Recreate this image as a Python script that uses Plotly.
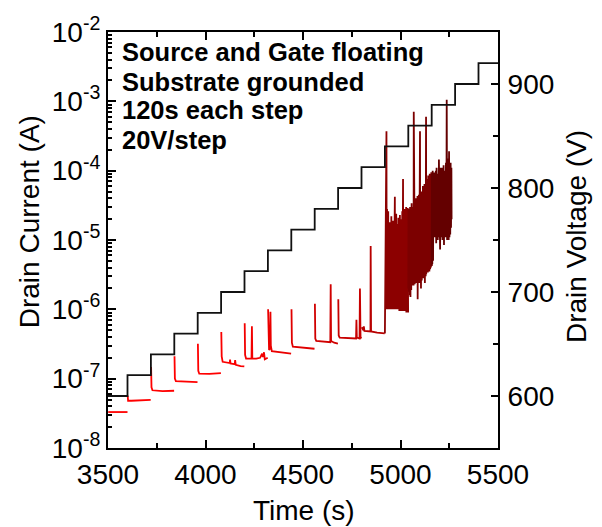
import plotly.graph_objects as go

# ---------------- data ----------------
# Drain voltage staircase (right axis)
step_t = [3500, 3600, 3720, 3840, 3960, 4080, 4200, 4320, 4440, 4560, 4680,
          4800, 4920, 5040, 5160, 5280, 5400, 5500]
step_v = [600, 620, 640, 660, 680, 700, 720, 740, 760, 780, 800,
          820, 840, 860, 880, 900, 920, 920]

# Drain current, one list pair per voltage step (left axis, log)
seg01_t = [3501, 3600]
seg01_i = [3.3e-8, 3.3e-8]
seg02_t = [3601, 3603, 3620, 3660, 3719]
seg02_i = [5.7e-8, 4.8e-8, 4.8e-8, 4.9e-8, 4.95e-8]
seg03_t = [3721, 3723, 3728, 3780, 3839]
seg03_i = [1.47e-7, 7.5e-8, 6.8e-8, 6.6e-8, 6.7e-8]
seg04_t = [3841, 3843, 3848, 3900, 3959]
seg04_i = [2.1e-7, 1.0e-7, 9.2e-8, 9.1e-8, 8.9e-8]
seg05_t = [3961, 3963, 3968, 4020, 4079]
seg05_i = [3.2e-7, 1.3e-7, 1.18e-7, 1.17e-7, 1.2e-7]
seg06_t = [4081, 4083, 4088, 4110, 4124, 4126, 4128, 4140, 4150, 4152, 4155, 4180, 4199]
seg06_i = [4.7e-7, 2.1e-7, 1.75e-7, 1.7e-7, 1.68e-7, 1.88e-7, 1.66e-7, 1.64e-7,
           1.62e-7, 1.85e-7, 1.58e-7, 1.52e-7, 1.5e-7]
seg07_t = [4201, 4203, 4208, 4236, 4238, 4240, 4260, 4280, 4290, 4294, 4300, 4304, 4319]
seg07_i = [6.3e-7, 2.2e-7, 1.95e-7, 1.95e-7, 5.7e-7, 1.95e-7, 1.95e-7, 2.0e-7,
           2.3e-7, 2.05e-7, 2.4e-7, 1.9e-7, 2.0e-7]
seg08_t = [4321, 4323, 4326, 4331, 4333, 4335, 4340, 4380, 4439]
seg08_i = [1.0e-6, 3.0e-7, 2.6e-7, 2.7e-7, 9.2e-7, 3.0e-7, 2.5e-7, 2.4e-7, 2.3e-7]
seg09_t = [4441, 4443, 4448, 4500, 4559]
seg09_i = [1.0e-6, 3.3e-7, 2.9e-7, 2.8e-7, 2.7e-7]
seg10_t = [4561, 4563, 4568, 4620, 4640, 4642, 4644, 4660, 4679]
seg10_i = [1.2e-6, 3.8e-7, 3.5e-7, 3.4e-7, 3.35e-7, 2.3e-6, 3.5e-7, 3.3e-7, 3.2e-7]
seg11_t = [4681, 4683, 4688, 4740, 4772, 4774, 4776, 4790, 4792, 4795, 4799]
seg11_i = [1.4e-6, 4.2e-7, 3.9e-7, 3.85e-7, 3.8e-7, 7.1e-7, 3.9e-7, 3.8e-7,
           2.0e-6, 4.0e-7, 3.8e-7]
seg12_t = [4801, 4805, 4810, 4812, 4815, 4846, 4847, 4849, 4880, 4919]
seg12_i = [5.5e-7, 5.2e-7, 5.0e-7, 5.7e-7, 4.9e-7, 4.8e-7, 8.2e-6, 4.8e-7, 4.6e-7, 4.5e-7]
seg13_t = [4920, 4921, 4923, 4924, 4928, 4929, 4931, 4932, 4934, 4935, 4937, 4938,
           4941, 4942, 4945, 4946, 4949, 4950, 4953, 4954, 4957, 4958, 4961, 4962,
           4965, 4966, 4971, 4972, 4974, 4975, 4978, 4979, 4981, 4982, 4985, 4986,
           4989, 4990, 4993, 4994, 4997, 4998, 5001, 5002, 5005, 5006, 5009, 5010,
           5013, 5014, 5017, 5018, 5021, 5022, 5025, 5026, 5029, 5030, 5033, 5034,
           5037, 5039]
seg13_i = [4.5e-7, 1.3e-6, 6e-6, 1.1e-6, 3.7e-4, 1.0e-6, 2.8e-5, 1.0e-6, 1.2e-5, 1.0e-6,
           2.6e-5, 1.0e-6, 5e-6, 1.0e-6, 1.8e-5, 1.0e-6, 4e-6, 1.0e-6, 2.2e-5, 1.0e-6,
           8e-6, 1.0e-6, 1.9e-5, 1.0e-6, 1.4e-5, 1.0e-6, 4.2e-5, 1.0e-6, 1.6e-5, 1.0e-6,
           2.4e-5, 1.0e-6, 9e-6, 1.0e-6, 1.7e-5, 1.0e-6, 2.1e-5, 1.0e-6, 1.3e-5, 9.5e-7,
           2.3e-5, 9.5e-7, 1.5e-5, 9.5e-7, 2.0e-5, 9.5e-7, 2.6e-5, 9.5e-7, 7.6e-5, 9.5e-7,
           2.4e-5, 9.5e-7, 2.8e-5, 9.5e-7, 2.2e-5, 9.5e-7, 3.0e-5, 9e-7, 2.6e-5, 9e-7,
           2.9e-5, 9e-7]
seg14_t = [5040, 5041, 5043, 5045, 5047, 5049, 5051, 5053, 5055, 5057, 5059, 5061,
           5063, 5065, 5067, 5068, 5069, 5071, 5073, 5075, 5077, 5079, 5081, 5083,
           5085, 5087, 5088, 5090, 5092, 5094, 5096, 5098, 5099, 5100, 5101, 5103,
           5105, 5107, 5109, 5111, 5113, 5115, 5117, 5119, 5121, 5123, 5125, 5127,
           5129, 5131, 5132, 5134, 5136, 5138, 5140, 5142, 5144, 5146, 5148, 5150,
           5152, 5154, 5156, 5158, 5160]
seg14_i = [2.0e-6, 2.8e-5, 1.8e-6, 2.6e-5, 1.6e-6, 3.0e-5, 1.5e-6, 2.4e-5, 1.9e-6,
           3.4e-5, 2.2e-6, 2.2e-5, 2.4e-6, 3.0e-5, 2.2e-6, 7.1e-4, 2.5e-6, 3.6e-5,
           2.3e-6, 2.8e-5, 2.6e-6, 4.0e-5, 2.4e-6, 3.2e-5, 2.5e-6, 4.3e-5, 1.4e-6,
           3.6e-5, 2.6e-6, 4.5e-5, 2.4e-6, 3.8e-5, 2.5e-6, 3.7e-4, 2.4e-6, 4.2e-5,
           2.0e-6, 5.0e-5, 2.6e-6, 4.6e-5, 3.0e-6, 6.0e-5, 2.8e-6, 5.2e-5, 3.2e-6,
           6.4e-5, 2.4e-6, 5.6e-5, 3.0e-6, 6.0e-4, 3.2e-6, 7.6e-5, 3.6e-6, 6.8e-5,
           3.4e-6, 8.5e-5, 3.8e-6, 7.6e-5, 3.5e-6, 9.0e-5, 3.8e-6, 8.0e-5, 4.0e-6,
           9.5e-5, 4.2e-6]
seg15_t = [5160, 5161, 5163, 5165, 5167, 5169, 5171, 5173, 5175, 5177, 5179, 5181,
           5183, 5185, 5187, 5189, 5191, 5193, 5195, 5197, 5199, 5201, 5203, 5205,
           5207, 5209, 5211, 5213, 5215, 5217, 5219, 5221, 5223, 5225, 5227, 5229,
           5231, 5233, 5235, 5237, 5239, 5241, 5243, 5245, 5247, 5249, 5251, 5253,
           5255, 5257, 5259, 5261, 5262]
seg15_i = [4.3e-6, 9.0e-5, 4.5e-6, 1.0e-4, 5.0e-6, 8.0e-5, 1.1e-5, 9.4e-5, 1.2e-5,
           8.5e-5, 1.1e-5, 1.0e-4, 9.0e-6, 1.1e-4, 1.2e-5, 8.0e-5, 1.0e-5, 9.0e-5,
           1.1e-5, 1.45e-4, 1.0e-5, 9.5e-5, 7.3e-6, 1.1e-4, 1.1e-5, 8.5e-5, 1.2e-5,
           1.1e-4, 1.0e-5, 9.0e-5, 1.1e-5, 1.2e-4, 8.5e-6, 1.0e-4, 1.1e-5, 9.0e-5,
           1.2e-5, 1.3e-4, 1.1e-5, 1.05e-3, 1.0e-5, 1.5e-4, 1.2e-5, 1.3e-4, 1.0e-5,
           1.9e-4, 1.1e-5, 1.2e-4, 1.2e-5, 1.3e-4, 1.5e-5, 1.1e-4, 2.0e-5]

segments = [
    (seg01_t, seg01_i, "#ff0000"), (seg02_t, seg02_i, "#ff0000"),
    (seg03_t, seg03_i, "#ff0000"), (seg04_t, seg04_i, "#ff0000"),
    (seg05_t, seg05_i, "#ff0000"), (seg06_t, seg06_i, "#fa0000"),
    (seg07_t, seg07_i, "#f20000"), (seg08_t, seg08_i, "#ea0000"),
    (seg09_t, seg09_i, "#e00000"), (seg10_t, seg10_i, "#d00000"),
    (seg11_t, seg11_i, "#c80000"), (seg12_t, seg12_i, "#b80000"),
    (seg13_t, seg13_i, "#8c0000"), (seg14_t, seg14_i, "#7c0000"),
    (seg15_t, seg15_i, "#640000"),
]

y_tickvals = [1e-8, 1e-7, 1e-6, 1e-5, 1e-4, 1e-3, 1e-2]
y_ticktext = ["10<sup>-8</sup>", "10<sup>-7</sup>", "10<sup>-6</sup>", "10<sup>-5</sup>",
              "10<sup>-4</sup>", "10<sup>-3</sup>", "10<sup>-2</sup>"]
y_minor = [m * d for d in [1e-8, 1e-7, 1e-6, 1e-5, 1e-4, 1e-3] for m in range(2, 10)]
v_tickvals = [600, 700, 800, 900]

notes = ["Source and Gate floating", "Substrate grounded", "120s each step", "20V/step"]

# ---------------- figure ----------------
FONT = "Liberation Sans, Arial, sans-serif"
fig = go.Figure()
for t, i, c in segments:
    fig.add_trace(go.Scatter(x=t, y=i, mode="lines", line=dict(color=c, width=1.8),
                             yaxis="y", hoverinfo="skip"))
fig.add_trace(go.Scatter(x=step_t, y=step_v, mode="lines", line_shape="hv",
                         line=dict(color="#111111", width=1.8), yaxis="y2"))

W, H = 602, 527
L, R, T, B = 108, 104, 26, 79
pw, ph = W - L - R, H - T - B

def px(xp):
    return (xp - L) / pw

def py(yp):
    return 1 - (yp - T) / ph

axis_common = dict(showline=True, linecolor="black", linewidth=2, showgrid=False,
                   zeroline=False, ticks="inside", tickcolor="black", tickwidth=2,
                   tickfont=dict(family=FONT, size=28, color="black"))

fig.update_layout(
    width=W, height=H, margin=dict(l=L, r=R, t=T, b=B),
    plot_bgcolor="white", paper_bgcolor="white", showlegend=False,
    xaxis=dict(range=[3500, 5500], tick0=3500, dtick=500, ticklen=8, mirror="ticks",
               minor=dict(ticks="inside", ticklen=5, tickwidth=2, tickcolor="black",
                          tick0=3500, dtick=250),
               **axis_common),
    yaxis=dict(type="log", range=[-8, -2], tickmode="array", tickvals=y_tickvals,
               ticktext=y_ticktext, ticklen=8,
               minor=dict(ticks="inside", ticklen=4, tickwidth=1.5, tickcolor="black",
                          tickmode="array", tickvals=y_minor),
               **axis_common),
    yaxis2=dict(overlaying="y", side="right", range=[550, 950], tickmode="array",
                tickvals=v_tickvals, ticklen=7, ticklabelstandoff=2,
                minor=dict(ticks="inside", ticklen=5, tickwidth=2, tickcolor="black",
                           tick0=550, dtick=50),
                **axis_common),
)

ann = []
for k, (txt, yc) in enumerate(zip(notes, [46, 77, 105, 136])):
    ann.append(dict(text="<b>%s</b>" % txt, xref="paper", yref="paper", x=px(120),
                    y=py(yc), xanchor="left", yanchor="middle", showarrow=False,
                    font=dict(family=FONT, size=25.5, color="black")))
ann.append(dict(text="Drain Current (A)", xref="paper", yref="paper", x=px(29), y=py(219),
                xanchor="center", yanchor="middle", textangle=-90, showarrow=False,
                font=dict(family=FONT, size=28, color="black")))
ann.append(dict(text="Drain Voltage (V)", xref="paper", yref="paper", x=px(576), y=py(234),
                xanchor="center", yanchor="middle", textangle=-90, showarrow=False,
                font=dict(family=FONT, size=28, color="black")))
ann.append(dict(text="Time (s)", xref="paper", yref="paper", x=px(304), y=py(511),
                xanchor="center", yanchor="middle", showarrow=False,
                font=dict(family=FONT, size=28, color="black")))
fig.update_layout(annotations=ann)

fig.write_html("out.html")
